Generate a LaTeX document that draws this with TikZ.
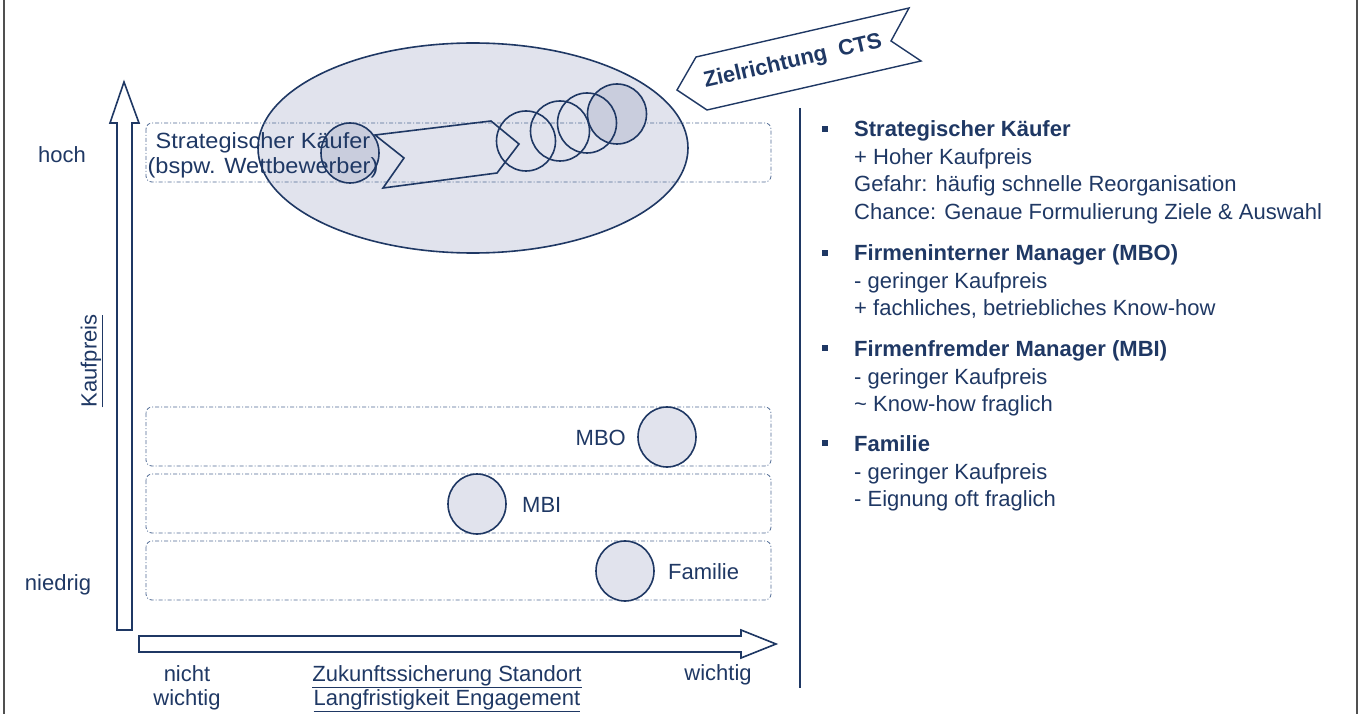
\documentclass[tikz,border=0pt]{standalone}
\usepackage{fontspec}
\setmainfont{Liberation Sans}
\usetikzlibrary{shapes.geometric}
\definecolor{navy}{HTML}{1F3864}
\definecolor{fillA}{HTML}{E1E3ED}
\definecolor{fillB}{HTML}{C9CDDD}
\definecolor{dashc}{HTML}{4F6A94}
\definecolor{framec}{HTML}{505050}
\begin{document}
\begin{tikzpicture}[x=1pt,y=-1pt,
  font=\fontsize{22}{25}\selectfont, text=navy,
  row/.style={draw=dashc, line width=0.8pt, dash pattern=on 4pt off 2pt on 1pt off 2pt, rounded corners=6pt},
  blob/.style={ellipse, draw=navy, line width=1.6pt, fill=fillA, minimum width=58pt, minimum height=60pt, inner sep=0pt},
  ring/.style={ellipse, draw=navy, line width=1.6pt, minimum width=59pt, minimum height=60pt, inner sep=0pt},
  fatarrow/.style={draw=navy, line width=1.6pt, fill=white, line join=miter},
  lbl/.style={inner sep=0pt, anchor=base west},
  clbl/.style={inner sep=0pt, anchor=base},
  hdr/.style={inner sep=0pt, anchor=base west, font=\fontsize{22}{25}\selectfont\bfseries},
  bul/.style={fill=navy, minimum size=6pt, inner sep=0pt},
]
\useasboundingbox (0,0) rectangle (1360,714);
% frame lines
\draw[framec, line width=1.5pt] (4,0) -- (4,714);
\draw[framec, line width=1.5pt] (1357,0) -- (1357,714);

% big ellipse
\node[ellipse, draw=navy, line width=1.6pt, fill=fillA, minimum width=430pt, minimum height=210pt, inner sep=0pt] (big) at (473,148) {};

% rows
\draw[row] (146,123) rectangle (771,182);
\draw[row] (146,407) rectangle (771,466);
\draw[row] (146,474) rectangle (771,533);
\draw[row] (146,541) rectangle (771,600);

% strategic buyer circle and text
\node[blob, fill=fillB] (sk) at (350,153) {};
\node[align=center, inner sep=0pt, xscale=1.07] (sktext) at (263,155) {Strategischer Käufer\\(bspw. Wettbewerber)};

% fat arrow in ellipse
\draw[draw=navy, line width=1.6pt, line join=miter] (375,135) -- (491,121) -- (519,144) -- (497,173) -- (383,188) -- (404,158) -- cycle;

% chain of circles
\node[ring, fill=fillB] (c4) at (617,114) {};
\node[ring] (c1) at (526,141) {};
\node[ring] (c2) at (560,131) {};
\node[ring] (c3) at (587,123) {};

% lower circles
\node[blob] (mbo) at (667,437) {};
\node[blob] (mbi) at (477,504) {};
\node[blob] (fam) at (625,571) {};
\node[inner sep=0pt, anchor=base east] (mbotxt) at (626,445) {MBO};
\node[lbl] (mbitxt) at (522,512) {MBI};
\node[lbl] (famtxt) at (668,579) {Familie};

% axes
\draw[fatarrow] (117,630) -- (117,123) -- (110,123) -- (124,82) -- (139,123) -- (132,123) -- (132,630) -- cycle;
\draw[fatarrow] (139,636) -- (741,636) -- (741,630) -- (776,644) -- (741,658) -- (741,652) -- (139,652) -- cycle;

% axis labels
\node[clbl] (hoch) at (62,163) {hoch};
\node[clbl] (niedrig) at (58,590) {niedrig};
\node[rotate=90, inner sep=0pt] (kp) at (92,361) {\underline{Kaufpreis}};
\node[clbl] (nicht1) at (187,681) {nicht};
\node[clbl] (nicht2) at (187,705) {wichtig};
\node[clbl] (zk1) at (447,681) {\underline{Zukunftssicherung Standort}};
\node[clbl] (zk2) at (447,705) {\underline{Langfristigkeit Engagement}};
\node[clbl] (wichtig) at (718,680) {wichtig};

% banner
\draw[draw=navy, line width=1.4pt, fill=white, line join=miter] (677,90) -- (696,57) -- (909,8) -- (891,41) -- (921,61) -- (707,110) -- cycle;
\node[rotate=13, inner sep=0pt, font=\fontsize{22}{25}\selectfont\bfseries] (cts) at (793,62) {Zielrichtung\ \ CTS};

% divider
\draw[navy, line width=1.5pt] (800,108) -- (800,688);

% right block
\node[bul] (b1) at (825,129) {};
\node[hdr] (h1) at (854,137) {Strategischer Käufer};
\node[lbl] (l11) at (854,165) {+ Hoher Kaufpreis};
\node[lbl] (l12) at (854,192) {Gefahr: häufig schnelle Reorganisation};
\node[lbl] (l13) at (854,219) {Chance: Genaue Formulierung Ziele \& Auswahl};

\node[bul] (b2) at (825,253) {};
\node[hdr] (h2) at (854,261) {Firmeninterner Manager (MBO)};
\node[lbl] (l21) at (854,288) {- geringer Kaufpreis};
\node[lbl] (l22) at (854,315) {+ fachliches, betriebliches Know-how};

\node[bul] (b3) at (825,348) {};
\node[hdr] (h3) at (854,356) {Firmenfremder Manager (MBI)};
\node[lbl] (l31) at (854,384) {- geringer Kaufpreis};
\node[lbl] (l32) at (854,411) {\textasciitilde\ Know-how fraglich};

\node[bul] (b4) at (825,443) {};
\node[hdr] (h4) at (854,451) {Familie};
\node[lbl] (l41) at (854,479) {- geringer Kaufpreis};
\node[lbl] (l42) at (854,506) {- Eignung oft fraglich};
\end{tikzpicture}
\end{document}
